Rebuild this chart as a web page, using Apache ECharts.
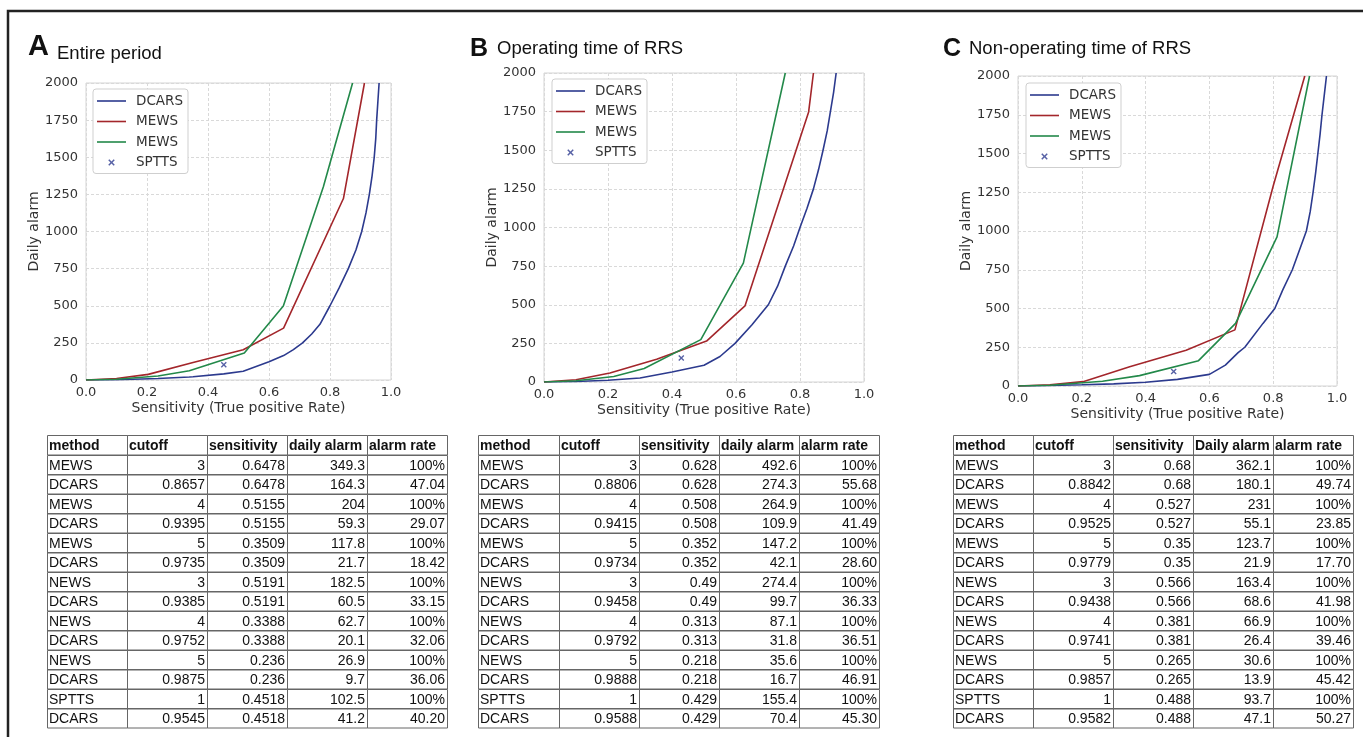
<!DOCTYPE html>
<html>
<head>
<meta charset="utf-8">
<script src="https://cdn.jsdelivr.net/npm/echarts@6/dist/echarts.min.js"></script>
<style>
  html, body { margin: 0; padding: 0; background: #fff; }
  #main { width: 1363px; height: 737px; }
</style>
</head>
<body>
<div id="main"></div>
<script>
// panel titles
var panelLetters = ['A', 'B', 'C'];
var panelTitles = ['Entire period', 'Operating time of RRS', 'Non-operating time of RRS'];

// curves: [sensitivity, daily alarm]
var dcarsA = [[0,0],[0.1,2],[0.236,9.7],[0.3388,20.1],[0.3509,21.7],[0.4518,41.2],[0.5155,59.3],[0.5191,60.5],[0.6,123],[0.6478,164.3],[0.68,205],[0.71,250],[0.74,310],[0.767,375],[0.8,500],[0.83,620],[0.86,750],[0.885,875],[0.904,1000],[0.918,1125],[0.929,1250],[0.938,1375],[0.945,1500],[0.95,1625],[0.953,1750],[0.957,1875],[0.961,2000]];
var mewsA = [[0,0],[0.1,10],[0.204,38],[0.3509,117.8],[0.5155,204],[0.6478,349.3],[0.844,1222],[0.913,2000]];
var newsA = [[0,0],[0.1,5],[0.236,26.9],[0.3388,62.7],[0.5191,182.5],[0.647,498],[0.778,1300],[0.874,2000]];
var spttsA = [[0.4518,102.5]];

var dcarsB = [[0,0],[0.1,3],[0.2,11],[0.3,26],[0.4,65],[0.5,108],[0.55,165],[0.597,250],[0.65,370],[0.701,500],[0.73,620],[0.754,750],[0.78,880],[0.8,1000],[0.822,1125],[0.842,1250],[0.858,1375],[0.872,1500],[0.885,1625],[0.895,1750],[0.905,1875],[0.913,2000]];
var mewsB = [[0,0],[0.1,15],[0.206,58],[0.352,147.2],[0.508,264.9],[0.628,492.6],[0.827,1748],[0.842,2000]];
var newsB = [[0,0],[0.1,8],[0.218,35.6],[0.313,87.1],[0.49,274.4],[0.623,769],[0.754,2000]];
var spttsB = [[0.429,155.4]];

var dcarsC = [[0,0],[0.1,3],[0.2,8],[0.3,14],[0.4,24],[0.5,43],[0.6,75],[0.65,135],[0.69,215],[0.711,250],[0.768,404],[0.805,500],[0.83,620],[0.86,750],[0.883,880],[0.904,1000],[0.916,1125],[0.925,1250],[0.933,1375],[0.94,1500],[0.947,1625],[0.953,1750],[0.96,1875],[0.967,2000]];
var mewsC = [[0,0],[0.1,8],[0.204,28],[0.35,123.7],[0.527,231],[0.68,362.1],[0.8,1290],[0.899,2000]];
var newsC = [[0,0],[0.1,5],[0.265,30.6],[0.381,66.9],[0.566,163.4],[0.682,404],[0.812,962],[0.914,2000]];
var spttsC = [[0.488,93.7]];

// tables
var headerAB = ['method', 'cutoff', 'sensitivity', 'daily alarm', 'alarm rate'];
var headerC = ['method', 'cutoff', 'sensitivity', 'Daily alarm', 'alarm rate'];
var tableA = [
  ['MEWS','3','0.6478','349.3','100%'],
  ['DCARS','0.8657','0.6478','164.3','47.04'],
  ['MEWS','4','0.5155','204','100%'],
  ['DCARS','0.9395','0.5155','59.3','29.07'],
  ['MEWS','5','0.3509','117.8','100%'],
  ['DCARS','0.9735','0.3509','21.7','18.42'],
  ['NEWS','3','0.5191','182.5','100%'],
  ['DCARS','0.9385','0.5191','60.5','33.15'],
  ['NEWS','4','0.3388','62.7','100%'],
  ['DCARS','0.9752','0.3388','20.1','32.06'],
  ['NEWS','5','0.236','26.9','100%'],
  ['DCARS','0.9875','0.236','9.7','36.06'],
  ['SPTTS','1','0.4518','102.5','100%'],
  ['DCARS','0.9545','0.4518','41.2','40.20']
];
var tableB = [
  ['MEWS','3','0.628','492.6','100%'],
  ['DCARS','0.8806','0.628','274.3','55.68'],
  ['MEWS','4','0.508','264.9','100%'],
  ['DCARS','0.9415','0.508','109.9','41.49'],
  ['MEWS','5','0.352','147.2','100%'],
  ['DCARS','0.9734','0.352','42.1','28.60'],
  ['NEWS','3','0.49','274.4','100%'],
  ['DCARS','0.9458','0.49','99.7','36.33'],
  ['NEWS','4','0.313','87.1','100%'],
  ['DCARS','0.9792','0.313','31.8','36.51'],
  ['NEWS','5','0.218','35.6','100%'],
  ['DCARS','0.9888','0.218','16.7','46.91'],
  ['SPTTS','1','0.429','155.4','100%'],
  ['DCARS','0.9588','0.429','70.4','45.30']
];
var tableC = [
  ['MEWS','3','0.68','362.1','100%'],
  ['DCARS','0.8842','0.68','180.1','49.74'],
  ['MEWS','4','0.527','231','100%'],
  ['DCARS','0.9525','0.527','55.1','23.85'],
  ['MEWS','5','0.35','123.7','100%'],
  ['DCARS','0.9779','0.35','21.9','17.70'],
  ['NEWS','3','0.566','163.4','100%'],
  ['DCARS','0.9438','0.566','68.6','41.98'],
  ['NEWS','4','0.381','66.9','100%'],
  ['DCARS','0.9741','0.381','26.4','39.46'],
  ['NEWS','5','0.265','30.6','100%'],
  ['DCARS','0.9857','0.265','13.9','45.42'],
  ['SPTTS','1','0.488','93.7','100%'],
  ['DCARS','0.9582','0.488','47.1','50.27']
];

var BLUE = '#2c3a8e', RED = '#a3262b', GREEN = '#23894a';
var AXIS_FONT = 'DejaVu Sans';
var SANS = 'Liberation Sans, Arial, sans-serif';
var crossPath = 'path://M0,1.6 L1.6,0 L5,3.4 L8.4,0 L10,1.6 L6.6,5 L10,8.4 L8.4,10 L5,6.6 L1.6,10 L0,8.4 L3.4,5 Z';
var lineIcon = 'path://M0,0H29V1.6H0Z';

// plot boxes and furniture
var grids = [
  { left: 86, top: 83, width: 305, height: 297 },
  { left: 544, top: 73, width: 320, height: 309 },
  { left: 1018, top: 76, width: 319, height: 310 }
];
var legendPos = [{ left: 93, top: 89 }, { left: 552, top: 79 }, { left: 1026, top: 83 }];
var titlePos = [
  { lx: 28, ly: 47, lsize: 29, tx: 57, ty: 54 },
  { lx: 470, ly: 49, lsize: 25, tx: 497, ty: 49 },
  { lx: 943, ly: 49, lsize: 25, tx: 969, ty: 49 }
];
var tablePos = [
  { x: 47, widths: [80, 80, 80, 80, 80], header: headerAB, rows: tableA },
  { x: 478, widths: [81, 80, 80, 80, 80], header: headerAB, rows: tableB },
  { x: 953, widths: [80, 80, 80, 80, 80], header: headerC, rows: tableC }
];
var tableTop = 435, rowH = 19.5;

var curves = [
  [dcarsA, mewsA, newsA, spttsA],
  [dcarsB, mewsB, newsB, spttsB],
  [dcarsC, mewsC, newsC, spttsC]
];

var xAxes = [], yAxes = [], series = [], legends = [], graphics = [];

// outer frame
graphics.push({
  type: 'rect', silent: true,
  shape: { x: 8, y: 11, width: 1420, height: 800 },
  style: { fill: 'none', stroke: '#222', lineWidth: 2.5 }
});

for (var i = 0; i < 3; i++) {
  xAxes.push({
    gridIndex: i, type: 'value', min: 0, max: 1, interval: 0.2,
    name: 'Sensitivity (True positive Rate)', nameLocation: 'middle', nameGap: 21,
    nameTextStyle: { fontFamily: AXIS_FONT, fontSize: 14, color: '#333' },
    axisLine: { show: false }, axisTick: { show: false },
    axisLabel: { fontFamily: AXIS_FONT, fontSize: 13, color: '#333', margin: 6,
      formatter: function (v) { return v.toFixed(1); } },
    splitLine: { show: true, lineStyle: { color: '#d9d9d9', type: [3, 2], width: 1 } }
  });
  yAxes.push({
    gridIndex: i, type: 'value', min: 0, max: 2000, interval: 250,
    name: 'Daily alarm', nameLocation: 'middle', nameGap: 42,
    nameTextStyle: { fontFamily: AXIS_FONT, fontSize: 14, color: '#333' },
    axisLine: { show: false }, axisTick: { show: false },
    axisLabel: { fontFamily: AXIS_FONT, fontSize: 13, color: '#333', margin: 8,
      formatter: function (v) { return String(v); } },
    splitLine: { show: true, lineStyle: { color: '#d9d9d9', type: [3, 2], width: 1 } }
  });

  var c = curves[i];
  series.push({ name: 'DCARS', type: 'line', xAxisIndex: i, yAxisIndex: i, data: c[0],
    symbol: 'none', lineStyle: { color: BLUE, width: 1.6 }, itemStyle: { color: BLUE } });
  series.push({ name: 'MEWS', type: 'line', xAxisIndex: i, yAxisIndex: i, data: c[1],
    symbol: 'none', lineStyle: { color: RED, width: 1.6 }, itemStyle: { color: RED } });
  series.push({ name: 'NEWS', type: 'line', xAxisIndex: i, yAxisIndex: i, data: c[2],
    symbol: 'none', lineStyle: { color: GREEN, width: 1.6 }, itemStyle: { color: GREEN } });
  series.push({ name: 'SPTTS', type: 'scatter', xAxisIndex: i, yAxisIndex: i, data: c[3],
    symbol: crossPath, symbolSize: 6, itemStyle: { color: BLUE } });

  legends.push({
    orient: 'vertical', left: legendPos[i].left, top: legendPos[i].top,
    data: [
      { name: 'DCARS', icon: lineIcon },
      { name: 'MEWS', icon: lineIcon },
      { name: 'NEWS', icon: lineIcon },
      { name: 'SPTTS', icon: crossPath }
    ],
    // the picture labels the green curve MEWS as well
    formatter: function (name) { return name === 'NEWS' ? 'MEWS' : name; },
    itemWidth: 29, itemHeight: 6.5, itemGap: 6.5, symbolKeepAspect: true,
    padding: [5, 5, 4, 4],
    backgroundColor: '#fff', borderColor: '#cfcfcf', borderWidth: 1, borderRadius: 3,
    textStyle: { fontFamily: AXIS_FONT, fontSize: 13.5, color: '#333', lineHeight: 14, padding: [0, 0, 0, 5] },
    selectedMode: false
  });

  var tp = titlePos[i];
  graphics.push({ type: 'text', silent: true, x: tp.lx, y: tp.ly,
    style: { text: panelLetters[i], fontFamily: SANS, fontWeight: 'bold', fontSize: tp.lsize,
      fill: '#111', verticalAlign: 'middle' } });
  graphics.push({ type: 'text', silent: true, x: tp.tx, y: tp.ty,
    style: { text: panelTitles[i], fontFamily: SANS, fontSize: 18.5, fill: '#111', verticalAlign: 'middle' } });

  // table below each plot
  var tb = tablePos[i];
  var allRows = [tb.header].concat(tb.rows);
  for (var r = 0; r < allRows.length; r++) {
    var cx = tb.x;
    var ry = Math.round(tableTop + r * rowH) + 0.5;
    for (var k = 0; k < 5; k++) {
      var w = tb.widths[k];
      graphics.push({ type: 'rect', silent: true,
        shape: { x: cx + 0.5, y: ry, width: w, height: rowH },
        style: { fill: 'none', stroke: '#666', lineWidth: 1 } });
      var leftAlign = (r === 0 || k === 0);
      graphics.push({ type: 'text', silent: true,
        x: leftAlign ? cx + 2 : cx + w - 2, y: ry + rowH / 2 + 0.5,
        style: { text: allRows[r][k], fontFamily: SANS, fontSize: 14,
          fontWeight: r === 0 ? 'bold' : 'normal', fill: '#111',
          align: leftAlign ? 'left' : 'right', verticalAlign: 'middle' } });
      cx += w;
    }
  }
}

var chart = echarts.init(document.getElementById('main'));
chart.setOption({
  animation: false,
  backgroundColor: '#fff',
  grid: grids.map(function (g) {
    return { left: g.left, top: g.top, width: g.width, height: g.height,
      show: true, borderColor: '#d4d4d4', borderWidth: 1, backgroundColor: 'transparent' };
  }),
  xAxis: xAxes,
  yAxis: yAxes,
  legend: legends,
  series: series,
  graphic: graphics
});
</script>
</body>
</html>
